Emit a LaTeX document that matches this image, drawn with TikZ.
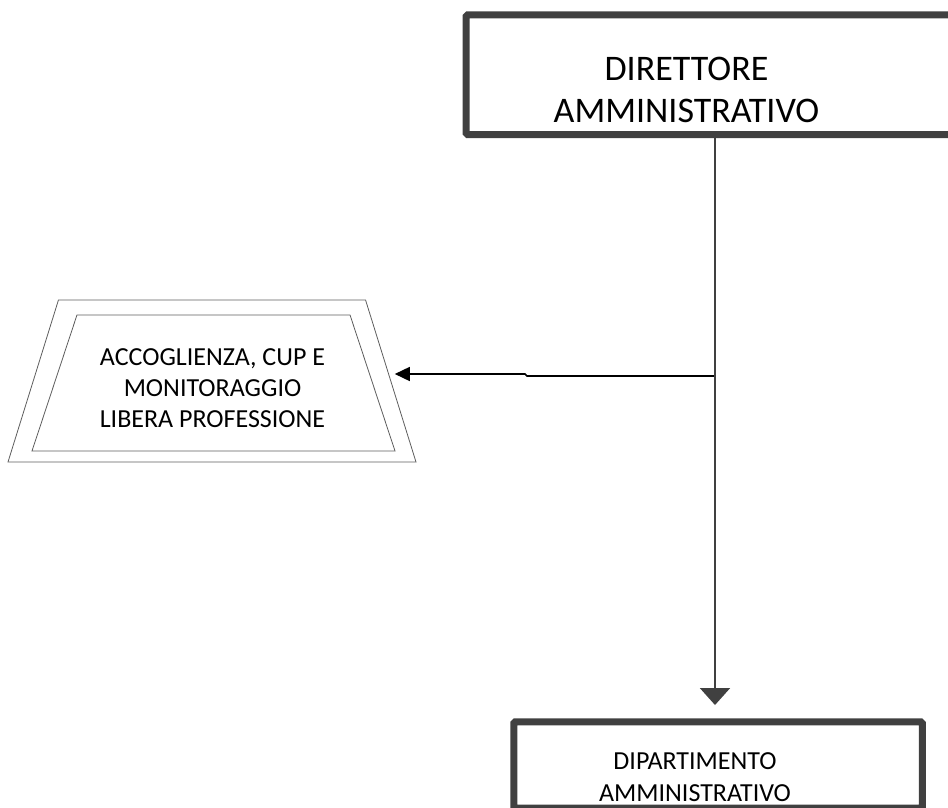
\documentclass[tikz,border=0pt]{standalone}
\usepackage{fontspec}
\setmainfont{Carlito}
\usepackage{xcolor}
\usepackage{tikz}
\usetikzlibrary{shapes,shapes.geometric}
\usetikzlibrary{calc,arrows.meta,positioning}
\definecolor{boxgray}{HTML}{404040}
\tikzset{
  orgbox/.style={draw=boxgray, line width=7pt, rounded corners=1.5pt, inner sep=0pt},
  trapbox/.style={trapezium, draw=boxgray!85, line width=0.8pt, trapezium stretches body, 
  inner sep=0pt, text depth=0pt},
  bigtext/.style={align=center, font=\fontsize{36}{42}\selectfont},
  smalltext/.style={align=center, font=\fontsize{26}{31}\selectfont},
  link/.style={draw=boxgray, line width=2pt}
}

\begin{document}
\begin{tikzpicture}[x=1pt,y=-1pt]
			\useasboundingbox (0,0) rectangle (948,808);
			\clip (0,0) rectangle (948,808);
			\node (dirAmm) [orgbox,minimum width=520pt,minimum height=119.5pt] 
			at (726,74.75) {};
			\node (dirText) [bigtext] at (686.5,89.5) {DIRETTORE\\AMMINISTRATIVO};
			\node (accOut) [trapbox,trapezium angle=72.7,minimum width=408pt,
			text height=162pt] at (212,381) {};
			\node (accIn) [trapbox,trapezium angle=71.7,minimum width=363pt,
			text height=136pt] at (213.5,383) {};
			\node (accText) [smalltext] at (212.5,387.8) 
			{ACCOGLIENZA, CUP E\\MONITORAGGIO\\LIBERA PROFESSIONE};
			\node (dipAmm) [orgbox,minimum width=408.5pt,minimum height=86.25pt] 
			at (718,764.9) {};
			\node (dipText) [smalltext,font=\fontsize{26}{32}\selectfont] at 
			(695,776.75) {DIPARTIMENTO\\AMMINISTRATIVO};
			\coordinate (junction) at (715,376);
			\coordinate (bendR) at (527,376);
			\coordinate (bendL) at (525,374);
			\draw [line width=1.6pt,-{Triangle[width=14pt,length=15pt]},
			shorten >=3.6pt] (junction) -- (bendR) -- (bendL) -- (accOut.east |- bendL);
			\draw [link] (dirAmm.south -| junction) -- (junction);
			\draw [link,-{Triangle[width=30pt,length=17pt]},shorten >=13.25pt] 
			(junction) -- (dipAmm.north -| junction);
			\end{tikzpicture}
\end{document}
